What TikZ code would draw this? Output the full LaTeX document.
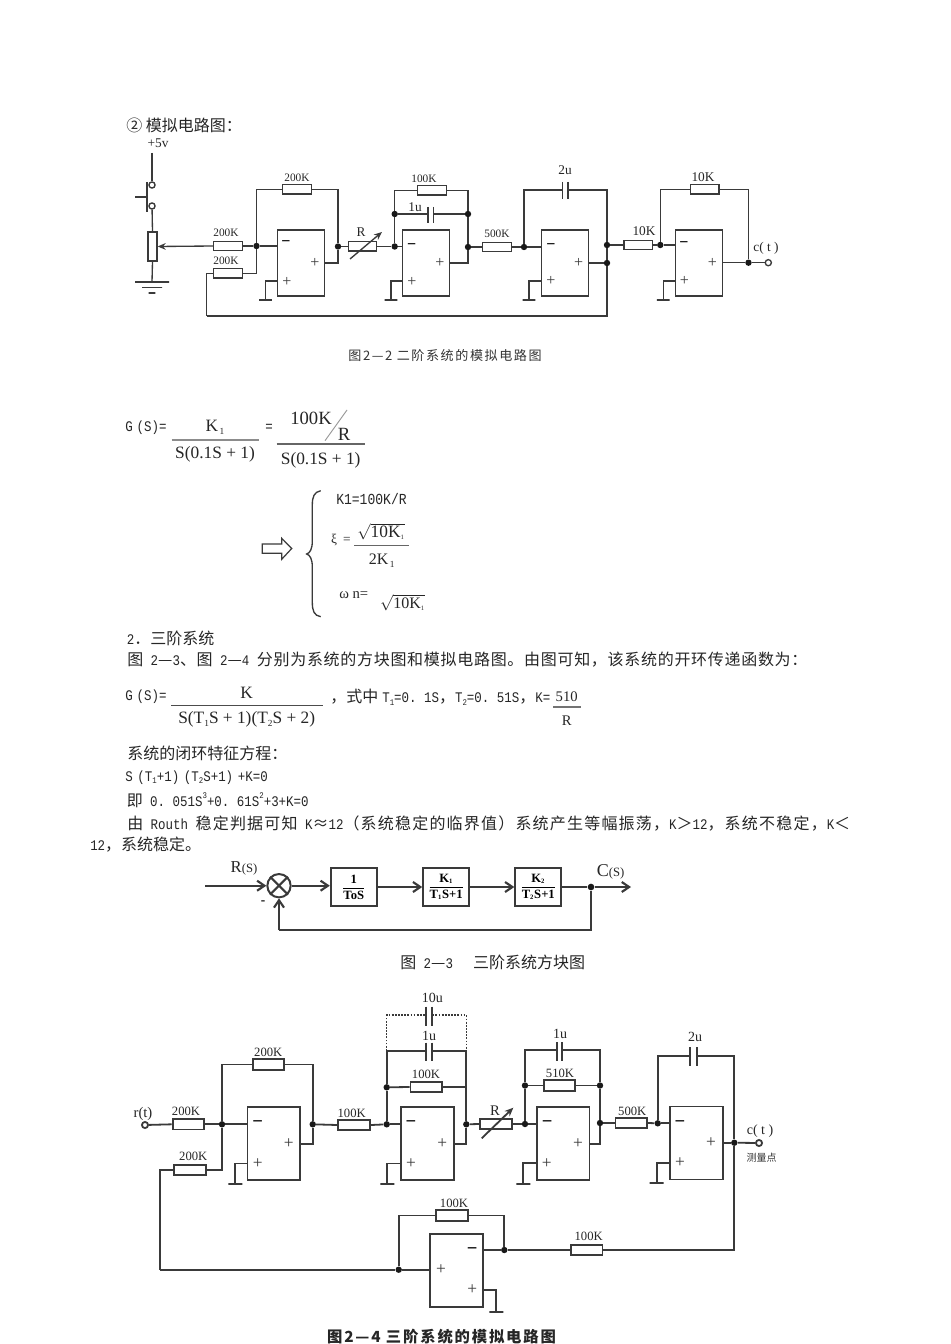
\documentclass[tikz,border=0pt]{standalone}
\usepackage{fontspec}
\usetikzlibrary{arrows.meta}
\setmainfont{Liberation Serif}
\newfontfamily\cjkf{Noto Sans CJK SC}
\newfontfamily\cjkw[LetterSpace=12]{Noto Sans CJK SC}
\newfontfamily\cjkj[LetterSpace=4.4]{Noto Sans CJK SC}
\newfontfamily\cjkk[LetterSpace=7.5]{Noto Sans CJK SC}
\newfontfamily\lmf[FakeStretch=0.85]{Liberation Mono}
\newcommand\lm[1]{{\lmf\fontsize{11}{12}\selectfont #1}}
\newcommand\hsp{\hspace{5.6pt}}
\newcommand\lowd[1]{\raisebox{-.3ex}{\lmf\fontsize{6.5}{7}\selectfont #1}}
\newcommand\upd[1]{\raisebox{.9ex}{\lmf\fontsize{6.5}{7}\selectfont #1}}
\newcommand\lows[1]{\raisebox{-.35ex}{\fontsize{7}{8}\selectfont #1}}
\definecolor{ink}{HTML}{3A3A3A}
\tikzset{
 wire/.style={draw=ink,line width=1pt},
 wireb/.style={draw=ink,line width=1.35pt},
 wirec/.style={draw=ink,line width=1.6pt},
 body/.style={anchor=west,inner sep=0pt,text=black!85,font=\cjkf\fontsize{12}{14}\selectfont},
 lab/.style={inner sep=0pt,text=black!85,font=\fontsize{8.5}{10}\selectfont},
 labm/.style={inner sep=0pt,text=black!85,font=\fontsize{10}{12}\selectfont},
 labb/.style={inner sep=0pt,text=black!85,font=\fontsize{9.5}{11}\selectfont},
 fm/.style={inner sep=0pt,text=black!85,font=\fontsize{13}{15}\selectfont},
 res/.style={draw=ink,line width=1pt,fill=white,inner sep=0pt,minimum width=21.4pt,minimum height=7pt},
 resb/.style={draw=ink,line width=1.35pt,fill=white,inner sep=0pt,minimum width=23.8pt,minimum height=7.9pt},
 pot/.style={draw=ink,line width=1pt,fill=white,inner sep=0pt,minimum width=6.75pt,minimum height=21.75pt},
 ampa/.style={draw=ink,line width=1pt,inner sep=0pt,minimum width=35.25pt,minimum height=49.5pt},
 ampb/.style={draw=ink,line width=1.35pt,inner sep=0pt,minimum width=39.6pt,minimum height=54.75pt},
 dot/.style={circle,fill=black!90,inner sep=0pt,minimum size=4.8pt},
 ring/.style={circle,draw=ink,line width=1pt,fill=white,inner sep=0pt,minimum size=4.6pt},
 gbar/.style={draw=ink,line width=1pt,inner sep=0pt,minimum width=9.5pt,minimum height=0pt},
 gbarb/.style={draw=ink,line width=1.35pt,inner sep=0pt,minimum width=10.5pt,minimum height=0pt},
 plusg/.style={inner sep=0pt,text=ink,font=\fontsize{12}{12}\selectfont},
 plusb/.style={inner sep=0pt,text=ink,font=\fontsize{13}{13}\selectfont},
 minusg/.style={inner sep=0pt,text=black,font=\bfseries\fontsize{12}{12}\selectfont},
 minusb/.style={inner sep=0pt,text=black,font=\bfseries\fontsize{14}{14}\selectfont},
 blockbox/.style={draw=ink,line width=1.5pt,inner sep=0pt,minimum width=34.5pt,minimum height=28.5pt,text=black,font=\bfseries\fontsize{9.5}{10}\selectfont},
 flow/.style={wirec,-{Straight Barb[length=5.5pt,width=7.5pt]}},
 capl/.style={draw=ink,line width=1.1pt},
 capb/.style={draw=ink,line width=1.35pt},
}
\begin{document}
\begin{tikzpicture}[x=.75pt,y=-.75pt]
\useasboundingbox (0,0) rectangle (950,1344);
\fill[white] (0,0) rectangle (950,1344);

% ---------- heading
\node[body] (t1) at (126,125.5) {② 模拟电路图：};

% ---------- circuit 2-2
\node[labm] (l5v) at (158,143) {+5v};
\coordinate (vcc) at (152,153);
\node[ring] (sw1) at (152,185) {};
\node[ring] (sw2) at (152,206) {};
\node[pot] (pt) at (152.5,246.5) {};
\node[gbar,minimum width=25.5pt] (g0a) at (152,282) {};
\node[gbar,minimum width=15pt] (g0b) at (152,287.5) {};
\node[gbar,minimum width=5.2pt] (g0c) at (152,293) {};
\draw[wire] (vcc) -- (sw1);
\draw[wire] (sw2) -- (pt.north);
\draw[wire] (pt.south) -- (g0a);
\coordinate (btnT) at (147,182);
\coordinate (btnB) at (147,212);
\coordinate (btnH) at (135,197);
\coordinate (btnM) at (147,197);
\draw[wire] (btnT) -- (btnB);
\draw[wire] (btnH) -- (btnM);

\node[res] (ar1) at (228,246) {};
\node[res] (ar2) at (228,273.5) {};
\node[lab] at (226,233) {200K};
\node[lab] at (226,261) {200K};
\draw[wire,-{Stealth[length=6pt,width=5pt]}] (ar1.west) -- (pt.east);
\node[dot] (aj1) at (256.5,246) {};
\node[ampa] (a1) at (301,263) {};
\node[res] (arf1) at (297,189.5) {};
\node[lab] at (297,178) {200K};
\node[dot] (aj2) at (338,246.5) {};
\coordinate (a1o) at (324.5,263);
\coordinate (a1t) at (338,263);
\draw[wire] (ar1.east) -- (aj1);
\draw[wire] (aj1) -- (277.5,246);
\draw[wire] (ar2.east) -| (aj1);
\draw[wire] (aj1) |- (arf1.west);
\draw[wire] (arf1.east) -| (aj2);
\draw[wire] (aj2) -- (a1t) -- (a1o);
\node[minusg] at (286,244) {−};
\node[plusg] at (315,263) {+};
\node[plusg] at (287,282) {+};
\coordinate (a1p) at (277.5,281);
\node[gbar] (g1) at (265.5,300) {};
\draw[wire] (a1p) -| (g1);

\node[res] (rv1) at (362.5,246.5) {};
\coordinate (rv1a) at (350,259);
\coordinate (rv1b) at (382,232);
\draw[wire,-{Stealth[length=6pt,width=5pt]}] (rv1a) -- (rv1b);
\node[labm] at (361,232) {R};
\node[dot] (bj1) at (394.7,246.5) {};
\node[dot] (bj2) at (394.7,214) {};
\draw[wire] (aj2) -- (rv1.west);
\draw[wire] (rv1.east) -- (bj1);
\node[ampa] (a2) at (426.3,263) {};
\draw[wire] (bj1) -- (402.7,246.5);
\draw[wire] (bj1) -- (bj2);
\node[res,minimum width=21.4pt] (brf) at (432,190.5) {};
\node[lab] at (424,179) {100K};
\draw[wire] (bj2) |- (brf.west);
\node[dot] (bj3) at (468,214) {};
\node[dot] (bj4) at (468,247) {};
\draw[wire] (brf.east) -| (bj3);
\draw[wire] (bj3) -- (bj4);
\coordinate (a2t) at (468,263);
\coordinate (a2o) at (450,263);
\draw[wire] (bj4) -- (a2t) -- (a2o);
\coordinate (bc1) at (428,214);
\coordinate (bc2) at (433.7,214);
\draw[wire] (bj2) -- (bc1);
\draw[wire] (bc2) -- (bj3);
\draw[capl] (428,207) -- (428,223);
\draw[capl] (433.7,207) -- (433.7,223);
\node[labm] at (415,207) {1u};
\node[minusg] at (411.7,246.7) {−};
\node[plusg] at (440,263) {+};
\node[plusg] at (412,282) {+};
\coordinate (a2p) at (402.7,281);
\node[gbar] (g2) at (391,300) {};
\draw[wire] (a2p) -| (g2);

\node[res] (cr1) at (497,247) {};
\node[lab] at (497,234) {500K};
\node[dot] (cj1) at (524,247) {};
\node[ampa] (a3) at (565.2,263) {};
\draw[wire] (bj4) -- (cr1.west);
\draw[wire] (cr1.east) -- (cj1);
\draw[wire] (cj1) -- (541.7,247);
\coordinate (cc1) at (562.7,190);
\coordinate (cc2) at (568,190);
\draw[wire] (cj1) |- (cc1);
\node[dot] (cj2) at (607,245) {};
\node[dot] (cj3) at (607,263) {};
\draw[wire] (cc2) -| (cj2);
\draw[wire] (cj2) -- (cj3);
\draw[capl] (562.7,182) -- (562.7,199);
\draw[capl] (568,182) -- (568,199);
\node[labm] at (565,170) {2u};
\coordinate (a3o) at (588.7,263);
\draw[wire] (a3o) -- (cj3);
\coordinate (fbk) at (206.5,316);
\draw[wire] (ar2.west) -| (fbk);
\draw[wire] (fbk) -| (cj3);
\node[minusg] at (551,246.7) {−};
\node[plusg] at (578.7,262.7) {+};
\node[plusg] at (551,281) {+};
\coordinate (a3p) at (541.7,281);
\node[gbar] (g3) at (529,300) {};
\draw[wire] (a3p) -| (g3);

\node[res] (dr1) at (638.3,245) {};
\node[labm] at (644,231) {10K};
\node[dot] (dj1) at (660.3,245) {};
\node[ampa] (a4) at (699,263) {};
\draw[wire] (cj2) -- (dr1.west);
\draw[wire] (dr1.east) -- (dj1);
\draw[wire] (dj1) -- (675.3,245);
\node[res] (drf) at (704.7,189.5) {};
\node[labm] at (703,177) {10K};
\node[dot] (dj2) at (748.5,262.7) {};
\draw[wire] (dj1) |- (drf.west);
\draw[wire] (drf.east) -| (dj2);
\coordinate (a4o) at (722.7,262.7);
\node[ring] (dout) at (768.3,262.7) {};
\draw[wire] (a4o) -- (dj2);
\draw[wire] (dj2) -- (dout);
\node[labm] at (766,248) {c( t )};
\node[minusg] at (684,244.3) {−};
\node[plusg] at (712.3,262.7) {+};
\node[plusg] at (684.3,281) {+};
\coordinate (a4p) at (675.3,281);
\node[gbar] (g4) at (663.3,300) {};
\draw[wire] (a4p) -| (g4);

\node[inner sep=0pt,text=black!80,font=\cjkw\fontsize{9.8}{11}\selectfont] (cap22) at (445,356) {图2—2 二阶系统的模拟电路图};

% ---------- formula 1
\node[body] at (125,428) {\lm{G\hspace{3pt}(S)=}};
\draw[black!45,line width=.9pt] (171.7,440) -- (259,440);
\node[fm] at (215,427) {K\lows{\,1}};
\node[fm] at (215,454) {S(0.1S + 1)};
\node[body] at (265,428) {\lm{=}};
\draw[black!60,line width=.9pt] (276.7,444) -- (365,444);
\node[fm,font=\fontsize{14}{16}\selectfont] at (311,418) {100K};
\draw[black!40,line width=.7pt] (347,410) -- (325,440.7);
\node[fm,font=\fontsize{14}{16}\selectfont] at (344,434) {R};
\node[fm] at (320.7,460) {S(0.1S + 1)};

\draw[ink,line width=.9pt] (262.3,544) -- (281.7,544) -- (281.7,538.3) -- (291.7,548.5) -- (281.7,559.3) -- (281.7,553.3) -- (262.3,553.3) -- cycle;
\draw[ink,line width=1pt] (320.7,490.7) .. controls (314,492) and (312.3,497) .. (312.3,505) -- (312.3,541) .. controls (312.3,549) and (310,553) .. (306.7,554) .. controls (310,555) and (312.3,559) .. (312.3,567) -- (312.3,602) .. controls (312.3,611) and (314,615.5) .. (320.7,616.7);
\node[body,font=\lmf\fontsize{11.5}{13}\selectfont] at (336,499) {K1=100K/R};
\node[labm] at (334,540) {ξ};
\node[labm] at (347,540) {=};
\draw[black!60,line width=.8pt] (354,545.7) -- (409,545.7);
\node[fm,font=\fontsize{13}{15}\selectfont] at (381,532) {$\sqrt{\mbox{10K}_{\mbox{\tiny 1}}}$};
\node[fm,font=\fontsize{12}{14}\selectfont] at (381.7,560.7) {2K\lows{\,1}};
\node[fm,font=\fontsize{11}{13}\selectfont,anchor=west] at (339,595) {ω n=};
\node[fm,font=\fontsize{12}{14}\selectfont] at (402.5,603) {$\sqrt{\mbox{10K}_{\mbox{\tiny 1}}}$};

% ---------- body text
\node[body] at (126.5,638) {\lm{2}．三阶系统};
\node[body,font=\cjkj\fontsize{12}{14}\selectfont] at (127,660) {图\hsp\lm{2}—\lm{3}、图\hsp\lm{2}—\lm{4}\hsp 分别为系统的方块图和模拟电路图。由图可知，该系统的开环传递函数为：};
\node[body] at (125,696.5) {\lm{G\hspace{3pt}(S)=}};
\draw[black!70,line width=.9pt] (171,705.3) -- (322.7,705.3);
\node[fm] at (246.7,693.3) {K};
\node[fm] at (246.7,719.3) {S(T\lows{1}S + 1)(T\lows{2}S + 2)};
\node[body] at (330,697.5) {，式中\hspace{3pt}\lm{T}\lowd{1}\lm{=0.\hsp 1S}，\lm{T}\lowd{2}\lm{=0.\hsp 51S}，\lm{K=}};
\draw[black!55,line width=.8pt] (553,707) -- (581,707);
\node[fm,font=\fontsize{11}{13}\selectfont] at (566.7,696.7) {510};
\node[fm,font=\fontsize{11}{13}\selectfont] at (566.7,720.7) {R};
\node[body] at (127,753.3) {系统的闭环特征方程：};
\node[body] at (125,777.5) {\lm{S\hspace{3.5pt}(T}\lowd{1}\lm{+1)\hspace{3.5pt}(T}\lowd{2}\lm{S+1)\hspace{3.5pt}+K=0}};
\node[body] at (126.5,800) {即\hsp\lm{0.\hsp 051S}\upd{3}\lm{+0.\hsp 61S}\upd{2}\lm{+3+K=0}};
\node[body,font=\cjkk\fontsize{12}{14}\selectfont] at (127,823) {由\hsp\lm{Routh}\hsp 稳定判据可知\hsp\lm{K}≈\lm{12}（系统稳定的临界值）系统产生等幅振荡，\lm{K}＞\lm{12}，系统不稳定，\lm{K}＜};
\node[body] at (90,845) {\lm{12}，系统稳定。};

% ---------- block diagram
\coordinate (rin) at (205,885.7);
\node[circle,draw=ink,line width=1.5pt,inner sep=0pt,minimum size=17.5pt] (sum) at (279,885.7) {};
\draw[wirec] (sum.north west) -- (sum.south east);
\draw[wirec] (sum.north east) -- (sum.south west);
\node[blockbox] (b1) at (353.8,887) {$\displaystyle\frac{\mbox{1}}{\mbox{ToS}}$};
\node[blockbox] (b2) at (446.2,887) {$\displaystyle\frac{\mbox{K}_{\mbox{\tiny 1}}}{\mbox{T}_{\mbox{\tiny 1}}\mbox{S+1}}$};
\node[blockbox] (b3) at (538.3,887) {$\displaystyle\frac{\mbox{K}_{\mbox{\tiny 2}}}{\mbox{T}_{\mbox{\tiny 2}}\mbox{S+1}}$};
\node[dot,minimum size=5pt] (bdot) at (591,887) {};
\coordinate (cout) at (631,887);
\coordinate (fbc) at (279,930);
\draw[flow] (rin) -- (sum.west);
\draw[flow] (sum.east) -- (b1.west |- sum.east);
\draw[flow] (b1.east) -- (b2.west);
\draw[flow] (b2.east) -- (b3.west);
\draw[wirec] (b3.east) -- (bdot);
\draw[flow] (bdot) -- (cout);
\draw[wirec] (bdot) |- (fbc);
\draw[flow] (fbc) -- (sum.south);
\node[inner sep=0pt,text=black!85,font=\fontsize{12.5}{14}\selectfont] at (244,868) {R\fontsize{9.5}{11}\selectfont(S)};
\node[inner sep=0pt,text=black!85,font=\fontsize{13.5}{15}\selectfont] at (610.7,871.7) {C\fontsize{9.5}{11}\selectfont(S)};
\node[inner sep=0pt,font=\bfseries\fontsize{10}{12}\selectfont] at (263,903) {-};
\node[body] at (400,962) {图\hsp\lm{2}—\lm{3}\hspace{15pt}三阶系统方块图};

% ---------- circuit 2-4
\node[labb,font=\fontsize{11}{13}\selectfont] at (143,1114) {r(t)};
\node[ring,line width=1.35pt] (rin2) at (145,1125) {};
\node[resb] (er1) at (188.5,1124.3) {};
\node[labb] at (186,1111) {200K};
\node[dot] (ej1) at (222,1124.3) {};
\node[ampb] (e1) at (273.8,1143.7) {};
\draw[wireb] (rin2) -- (er1.west);
\draw[wireb] (er1.east) -- (ej1);
\draw[wireb] (ej1) -- (247.3,1124.3);
\node[resb] (erf) at (268.5,1064.5) {};
\node[labb] at (268.3,1052.3) {200K};
\node[dot] (ej2) at (312.7,1124.3) {};
\draw[wireb] (ej1) |- (erf.west);
\draw[wireb] (erf.east) -| (ej2);
\coordinate (e1t) at (312.7,1144.3);
\coordinate (e1o) at (300.3,1144.3);
\draw[wireb] (ej2) -- (e1t) -- (e1o);
\node[resb] (er2) at (190.2,1170) {};
\node[labb] at (193.3,1156.3) {200K};
\draw[wireb] (er2.east) -| (ej1);
\node[minusb] at (257.7,1124.5) {−};
\node[plusb] at (288.7,1143.7) {+};
\node[plusb] at (257.7,1163.7) {+};
\coordinate (e1p) at (247.3,1163.5);
\node[gbarb] (eg1) at (235.3,1184.3) {};
\draw[wireb] (e1p) -| (eg1);

\node[resb] (fr1) at (354.2,1125) {};
\node[labb] at (351.7,1113.3) {100K};
\node[dot] (fj1) at (386.7,1124.3) {};
\node[dot] (fj2) at (386.7,1087.3) {};
\node[ampb] (f1) at (427.4,1143.7) {};
\draw[wireb] (ej2) -- (fr1.west);
\draw[wireb] (fr1.east) -- (fj1);
\draw[wireb] (fj1) -- (401,1124.3);
\draw[wireb] (fj1) -- (fj2);
\node[resb] (frf) at (426.3,1087) {};
\node[labb] at (426,1074.3) {100K};
\draw[wireb] (fj2) -- (frf.west);
\node[dot] (fj3) at (466.3,1124.3) {};
\coordinate (fTR) at (466.3,1050.7);
\coordinate (fTL) at (386.7,1050.7);
\coordinate (fc1) at (426.3,1050.7);
\coordinate (fc2) at (432.3,1050.7);
\draw[wireb] (frf.east) -| (fj3);
\draw[wireb] (fj2) -- (fTL) -- (fc1);
\draw[wireb] (fc2) -- (fTR) -- (fj3);
\draw[capb] (fc1 |- 0,1042.7) -- (fc1 |- 0,1061);
\draw[capb] (fc2 |- 0,1042.7) -- (fc2 |- 0,1061);
\node[labb,font=\fontsize{10.5}{12}\selectfont] at (429,1035.7) {1u};
\coordinate (fdL) at (386.7,1015);
\coordinate (fdR) at (466.3,1015);
\coordinate (fd1) at (426.3,1015);
\coordinate (fd2) at (432.3,1015);
\draw[wireb,densely dotted,line width=1pt] (fTL) -- (fdL) -- (fd1);
\draw[wireb,densely dotted,line width=1pt] (fd2) -- (fdR) -- (fTR);
\draw[capb] (fd1 |- 0,1006.7) -- (fd1 |- 0,1025.7);
\draw[capb] (fd2 |- 0,1006.7) -- (fd2 |- 0,1025.7);
\node[labb,font=\fontsize{10.5}{12}\selectfont] at (432.3,997.7) {10u};
\coordinate (f1t) at (466.3,1144.3);
\coordinate (f1o) at (453.7,1144.3);
\draw[wireb] (fj3) -- (f1t) -- (f1o);
\node[minusb] at (411,1124.5) {−};
\node[plusb] at (442.3,1143.7) {+};
\node[plusb] at (411,1163.7) {+};
\coordinate (f1p) at (401,1163.5);
\node[gbarb] (fg1) at (387.3,1184.3) {};
\draw[wireb] (f1p) -| (fg1);

\node[resb] (hr1) at (495.8,1124) {};
\coordinate (hra) at (481.7,1138.3);
\coordinate (hrb) at (513.3,1107.7);
\draw[wireb,-{Stealth[length=6.5pt,width=5.5pt]}] (hra) -- (hrb);
\node[labb,font=\fontsize{11}{13}\selectfont] at (495,1111) {R};
\node[dot] (hj1) at (525,1124) {};
\node[dot] (hj2) at (525,1085.5) {};
\node[ampb] (h1) at (563,1143.7) {};
\draw[wireb] (fj3) -- (hr1.west);
\draw[wireb] (hr1.east) -- (hj1);
\draw[wireb] (hj1) -- (536.7,1124);
\draw[wireb] (hj1) -- (hj2);
\node[resb] (hrf) at (559.5,1085.5) {};
\node[labb] at (560,1073.3) {510K};
\node[dot] (hj3) at (600,1085.5) {};
\draw[wireb] (hj2) -- (hrf.west);
\draw[wireb] (hrf.east) -- (hj3);
\coordinate (hTL) at (525,1050);
\coordinate (hTR) at (600,1050);
\coordinate (hc1) at (556.7,1050);
\coordinate (hc2) at (562.3,1050);
\draw[wireb] (hj2) -- (hTL) -- (hc1);
\draw[wireb] (hc2) -- (hTR) -- (hj3);
\draw[capb] (hc1 |- 0,1042.3) -- (hc1 |- 0,1060.7);
\draw[capb] (hc2 |- 0,1042.3) -- (hc2 |- 0,1060.7);
\node[labb,font=\fontsize{10.5}{12}\selectfont] at (560,1034) {1u};
\node[dot] (hj4) at (600,1123) {};
\draw[wireb] (hj3) -- (hj4);
\coordinate (h1t) at (600,1144);
\coordinate (h1o) at (589.3,1144);
\draw[wireb] (hj4) -- (h1t) -- (h1o);
\node[minusb] at (547.3,1124.5) {−};
\node[plusb] at (578,1143.3) {+};
\node[plusb] at (546.7,1163.3) {+};
\coordinate (h1p) at (536.7,1163.3);
\node[gbarb] (hg1) at (523.3,1184.3) {};
\draw[wireb] (h1p) -| (hg1);

\node[resb] (kr1) at (631.3,1123) {};
\node[labb] at (632.3,1111.7) {500K};
\node[dot] (kj1) at (657.7,1123.3) {};
\node[ampb] (k1) at (696.2,1143) {};
\draw[wireb] (hj4) -- (kr1.west);
\draw[wireb] (kr1.east) -- (kj1);
\draw[wireb] (kj1) -- (670,1123.3);
\coordinate (kc1) at (690,1056);
\coordinate (kc2) at (696.7,1056);
\draw[wireb] (kj1) |- (kc1);
\node[dot] (kj2) at (734.3,1142.7) {};
\draw[wireb] (kc2) -| (kj2);
\draw[capb] (kc1 |- 0,1047.3) -- (kc1 |- 0,1065.7);
\draw[capb] (kc2 |- 0,1047.3) -- (kc2 |- 0,1065.7);
\node[labb,font=\fontsize{10.5}{12}\selectfont] at (695,1036.7) {2u};
\coordinate (k1o) at (722.3,1142.7);
\node[ring,line width=1.35pt] (kout) at (759,1143) {};
\draw[wireb] (k1o) -- (kj2);
\draw[wireb] (kj2) -- (kout);
\node[labb,font=\fontsize{10.5}{12}\selectfont] at (760,1130.7) {c( t )};
\node[inner sep=0pt,text=black!80,font=\cjkf\fontsize{7.5}{8}\selectfont] at (761.7,1157.7) {测量点};
\node[minusb] at (680,1124) {−};
\node[plusb] at (711,1142.7) {+};
\node[plusb] at (680,1162.7) {+};
\coordinate (k1p) at (670,1162.7);
\node[gbarb] (kg1) at (656.7,1183.3) {};
\draw[wireb] (k1p) -| (kg1);

% bottom amp
\node[ampb] (m1) at (456.4,1270.5) {};
\node[dot] (mj1) at (398.7,1269.7) {};
\node[dot] (mj2) at (504.3,1250) {};
\node[resb] (mrf) at (452,1215.5) {};
\node[labb] at (454,1203.3) {100K};
\node[resb] (mr2) at (586.7,1250) {};
\node[labb] at (588.7,1236.7) {100K};
\draw[wireb] (mj1) -- (430,1269.7);
\draw[wireb] (mj1) |- (mrf.west);
\draw[wireb] (mrf.east) -| (mj2);
\coordinate (m1o) at (482.7,1250);
\draw[wireb] (m1o) -- (mj2);
\draw[wireb] (mj2) -- (mr2.west);
\draw[wireb] (mr2.east) -| (kj2);
\coordinate (mL) at (160,1269.7);
\draw[wireb] (er2.west) -| (mL);
\draw[wireb] (mL) -- (mj1);
\node[minusb] at (472.3,1251.5) {−};
\node[plusb] at (441,1270) {+};
\node[plusb] at (472.3,1290) {+};
\coordinate (m1p) at (482.7,1290);
\node[gbarb] (mg1) at (496.3,1311.7) {};
\draw[wireb] (m1p) -| (mg1);

\node[inner sep=0pt,text=black!85,font=\cjkw\bfseries\fontsize{11.5}{13}\selectfont] (cap24) at (441.5,1336.5) {图2—4 三阶系统的模拟电路图};
\end{tikzpicture}
\end{document}
